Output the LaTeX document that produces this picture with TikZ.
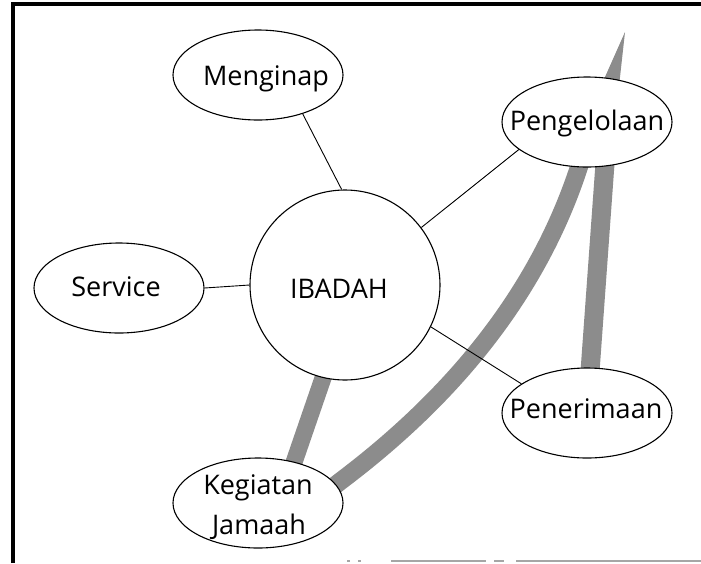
\documentclass[tikz,border=0pt]{standalone}
\usepackage{fontspec}
\setmainfont{Open Sans}
\usetikzlibrary{shapes.geometric,calc,backgrounds}
\begin{document}
\begin{tikzpicture}[x=1pt,y=-1pt,
  bubble/.style={ellipse,draw,line width=1.1pt,fill=white,minimum width=170pt,minimum height=90pt,inner sep=0pt},
  hub/.style={circle,draw,line width=1.1pt,fill=white,minimum size=190pt,inner sep=0pt},
  lbl/.style={inner sep=0pt,anchor=base,font=\fontsize{27}{32}\selectfont},
  link/.style={line width=0.9pt},
  band/.style={draw=black!45,line width=#1},
  bandfill/.style={fill=black!45},
  frame/.style={line width=3.5pt},
  edge line/.style={black!35,line width=1.2pt}
]
\useasboundingbox (0,0) rectangle (701,563);
% nodes
\node[hub] (ib) at (345,285) {};
\node[bubble] (meng) at (258,75) {};
\node[bubble] (serv) at (119,288) {};
\node[bubble] (peng) at (587,122) {};
\node[bubble] (pener) at (587,413) {};
\node[bubble] (keg) at (258,503) {};
% labels
\node[lbl] (ib-t) at ($(ib.center)+(-6,13)$) {IBADAH};
\node[lbl] (meng-t) at ($(meng.center)+(8,10)$) {Menginap};
\node[lbl] (serv-t) at ($(serv.center)+(-3,8)$) {Service};
\node[lbl] (peng-t) at ($(peng.center)+(0,8)$) {Pengelolaan};
\node[lbl] (pener-t) at ($(pener.center)+(-1,5)$) {Penerimaan};
\node[lbl] (keg-t1) at ($(keg.center)+(0,-9)$) {Kegiatan};
\node[lbl] (keg-t2) at ($(keg.center)+(1,31)$) {Jamaah};
% thin connectors
\draw[link] (meng.-41) -- (ib.92);
\draw[link] (serv.east) -- (ib.west);
\draw[link] (peng.-158) -- (ib.37);
\draw[link] (ib.-26) -- (pener.156);
% frame
\draw[frame] (13,563) -- (13,4) -- (701,4);
\draw[edge line, dash pattern=on 3pt off 8pt on 3pt off 30pt on 95pt off 8pt on 10pt off 12pt on 200pt] (347,561) -- (701,561);
% bands
\begin{pgfonlayer}{background}
\fill[white] (0,0) rectangle (701,563);
\coordinate (tip) at (625,32);
\fill[bandfill] (tip) -- ($(peng.center)+(-2,0)$) -- ($(peng.center)+(28,0)$) -- cycle;
\draw[band=19] ($(peng.center)+(21,0)$) -- (pener.center);
\draw[band=18] ($(peng.center)+(7,0)$) -- (578,170) .. controls (539,287) and (461,390) .. (342,480) -- ($(keg.center)+(62,-6)$);
\draw[band=17] ($(ib.center)+(10,0)$) -- ($(keg.center)+(22,0)$);
\end{pgfonlayer}
\end{tikzpicture}
\end{document}
